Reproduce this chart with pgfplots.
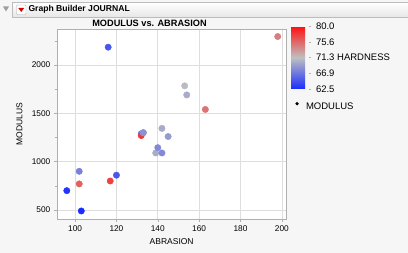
\documentclass[border=0pt]{standalone}
\usepackage{fontspec}
\setmainfont{Liberation Sans}
\usepackage{pgfplots}
\pgfplotsset{compat=1.18}
\definecolor{bg}{RGB}{246,246,246}
\definecolor{gridc}{RGB}{222,222,222}
\definecolor{axc}{RGB}{175,175,175}
\definecolor{hdrline}{RGB}{188,188,188}
\definecolor{hdrbot}{RGB}{230,230,230}
\newcommand{\fs}[1]{\fontsize{#1}{#1}\selectfont}
\pgfplotstableread{
A M H
102 900 67.5
120 860 65
117 800 77.5
198 2294 74.5
103 490 62.5
132 1289 67
132 1270 78
139 1090 70
102 770 76
154 1690 70
96 700 63
163 1540 75
116 2184 65
153 1784 71
133 1300 70
133 1300 68.5
140 1145 68
142 1090 68
145 1260 69
142 1344 70
}\tiredata
\begin{document}
\begin{tikzpicture}[x=1pt,y=1pt]
\useasboundingbox (0,0) rectangle (408,253);
\fill[bg] (0,0) rectangle (408,253);
% header bar
\shade[top color=white, bottom color=hdrbot] (12.5,250.5) rectangle (409,235.5);
\draw[hdrline] (409,250.5) -- (12.5,250.5) -- (12.5,235.5) -- (409,235.5);
\fill[gray!75] (3,246.5) -- (9,246.5) -- (6,241.5) -- cycle;
\filldraw[fill=white, draw=gray!60, rounded corners=1pt] (16.5,248) rectangle (26,238.5);
\fill[red!85!black] (18.3,245) -- (24.2,245) -- (21.25,241) -- cycle;
\node[anchor=base west, inner sep=0pt, font=\bfseries\fs{8.6}] at (28.3,241.7) {Graph Builder JOURNAL};
% title
\node[anchor=base, inner sep=0pt, font=\bfseries\fs{9.2}] at (149.5,226.3) {MODULUS vs. ABRASION};
\begin{axis}[
  at={(57.3pt,34pt)}, anchor=south west, scale only axis,
  width=228.7pt, height=189.7pt,
  xmin=91.4, xmax=202, ymin=407, ymax=2369,
  axis background/.style={fill=white},
  axis line style={axc},
  xtick={100,120,...,200}, ytick={500,1000,1500,2000},
  minor ytick={750,1250,1750,2250},
  grid=major, major grid style={gridc, line width=0.6pt},
  tick align=outside, major tick length=3.5pt, minor tick length=2.5pt,
  every tick/.style={axc},
  tick pos=left,
  ticklabel style={font=\fs{8.3}},
  /pgf/number format/assume math mode=true,
  /pgf/number format/1000 sep={},
  xlabel={ABRASION}, ylabel={MODULUS},
  label style={font=\fs{8.5}},
  xlabel style={at={(axis description cs:0.5,-0.12)}, anchor=center},
  ylabel style={at={(axis description cs:-0.166,0.5)}, anchor=center},
  colormap={bgr}{rgb255(0cm)=(25,45,255); rgb255(1cm)=(192,192,192); rgb255(2cm)=(255,15,15)},
  point meta min=62.5, point meta max=80,
  colorbar,
  colorbar shift/.style={},
  colorbar style={
    at={(parent axis.north east)}, anchor=north west, xshift=5pt, yshift=3.3pt,
    scale only axis, width=17.5pt, height=63pt,
    ytick={62.5,66.875,71.25,75.625,80},
    yticklabels={62.5,66.9,71.3 HARDNESS,75.6,80.0},
    yticklabel style={font=\fs{9.5}, xshift=2pt},
    axis line style={draw=none},
    ytick pos=right, xtick=\empty,
    major tick length=2pt, tick align=outside,
    ytick style={gray!60},
  },
  legend style={at={(axis description cs:1.0405,0.5957)}, anchor=west,
    draw=none, fill=none, inner sep=0pt, outer sep=0pt,
    nodes={inner sep=0pt}, font=\fs{9.5}},
  legend image code/.code={\path[draw=none,fill=none] (-1.8pt,0pt) rectangle (9pt,6pt); \fill[black,draw=none] (0pt,3.3pt) circle (1.8pt);},
]
\addplot[scatter, only marks, mark=*, mark size=3.2pt, scatter src=explicit,
  scatter/use mapped color={draw=mapped color, fill=mapped color}, forget plot]
  table[x=A, y=M, meta=H] {\tiredata};
\addlegendimage{only marks, mark=*, black}
\addlegendentry{MODULUS}
\end{axis}
\end{tikzpicture}
\end{document}
